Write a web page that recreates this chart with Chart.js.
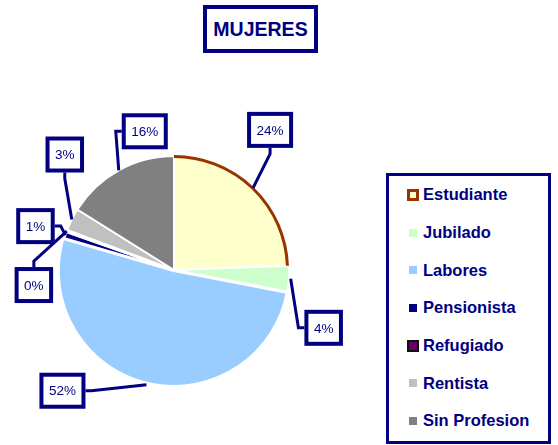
<!DOCTYPE html>
<html>
<head>
<meta charset="utf-8">
<script src="https://cdn.jsdelivr.net/npm/chart.js@4.4.1/dist/chart.umd.min.js"></script>
<style>
  html, body { margin: 0; padding: 0; background: #fff; }
  #wrap { position: relative; width: 558px; height: 445px; overflow: hidden; font-family: "Liberation Sans", Arial, sans-serif; }
  #pie { position: absolute; left: 0; top: 0; }
  #title {
    position: absolute; left: 203px; top: 5px; width: 115px; height: 48px;
    box-sizing: border-box; border: 4px solid #000080; background: #fff;
    color: #000080; font-weight: bold; font-size: 19.5px;
    display: flex; align-items: center; justify-content: center;
  }
  #legend {
    position: absolute; left: 386px; top: 173px; width: 165px; height: 271px;
    box-sizing: border-box; border: 3px solid #000080; background: #fff;
  }
  .row { position: relative; height: 37.7px; display: flex; align-items: center; }
  .mark { position: absolute; box-sizing: border-box; }
  .txt { position: absolute; left: 34px; color: #000080; font-weight: bold; font-size: 16.5px; white-space: nowrap; }
</style>
</head>
<body>
<div id="wrap">
  <canvas id="pie" width="558" height="445"></canvas>
  <div id="title">MUJERES</div>
  <div id="legend"></div>
</div>
<script>
// categorías y porcentajes
var categories = ["Estudiante", "Jubilado", "Labores", "Pensionista", "Refugiado", "Rentista", "Sin Profesion"];
var values = [24.4, 3.6, 51.5, 0.9, 0.3, 3.2, 16.1];
var colors = ["#FFFFCC", "#CCFFCC", "#99CCFF", "#000080", "#660066", "#C0C0C0", "#808080"];
var pctLabels = values.map(function(v) { return Math.round(v) + "%"; });

var NAVY = "#000080";

// donde va cada caja de etiqueta respecto al borde de su porción
var labelLayout = [
  { dx: 17, dy: -58, side: "bottom" },
  { dx: 33, dy: 49, side: "left" },
  { dx: -84, dy: 6, side: "right" },
  { dx: -30, dy: -9, side: "right" },
  { dx: -33, dy: 54, side: "top" },
  { dx: -7, dy: -65, side: "bottom" },
  { dx: 26, dy: -39, side: "left" }
];

// leyenda
var legendEl = document.getElementById("legend");
categories.forEach(function(name, i) {
  var row = document.createElement("div");
  row.className = "row";
  var mk = document.createElement("div");
  mk.className = "mark";
  if (i === 0 || i === 4) {
    mk.style.width = "12px"; mk.style.height = "12px";
    mk.style.left = "18px";
    mk.style.border = (i === 0 ? "3px solid #993300" : "2px solid #111");
  } else {
    mk.style.width = "8px"; mk.style.height = "8px";
    mk.style.left = "20px";
  }
  mk.style.background = colors[i];
  var tx = document.createElement("div");
  tx.className = "txt";
  tx.textContent = name;
  row.appendChild(mk);
  row.appendChild(tx);
  legendEl.appendChild(row);
});

var brownArc = {
  id: "brownArc",
  afterDatasetsDraw: function(chart) {
    var el = chart.getDatasetMeta(0).data[0];
    var p = el.getProps(["x", "y", "startAngle", "endAngle", "outerRadius"], true);
    var ctx = chart.ctx;
    ctx.save();
    ctx.strokeStyle = "#993300";
    ctx.lineWidth = 3;
    ctx.beginPath();
    ctx.arc(p.x, p.y, p.outerRadius - 0.5, p.startAngle, p.endAngle);
    ctx.stroke();
    ctx.restore();
  }
};

var boxLabels = {
  id: "boxLabels",
  afterDraw: function(chart) {
    var ctx = chart.ctx;
    var meta = chart.getDatasetMeta(0);
    var offs = chart.data.datasets[0].offset;
    ctx.save();
    ctx.font = '13.5px "Liberation Sans", Arial, sans-serif';
    ctx.textAlign = "center";
    ctx.textBaseline = "middle";
    meta.data.forEach(function(el, i) {
      var p = el.getProps(["x", "y", "startAngle", "endAngle", "outerRadius"], true);
      var mid = (p.startAngle + p.endAngle) / 2;
      var o = offs[i] || 0;
      var ax = p.x + Math.cos(mid) * (p.outerRadius + o);
      var ay = p.y + Math.sin(mid) * (p.outerRadius + o);
      var lay = labelLayout[i];
      var cx = ax + lay.dx, cy = ay + lay.dy;
      var tw = ctx.measureText(pctLabels[i]).width;
      var w = tw + 15, h = 32;
      var px = cx, py = cy, kx, ky;
      if (lay.side === "bottom") { py = cy + h / 2 + 2; kx = px; ky = py + 6; }
      if (lay.side === "top") { py = cy - h / 2 - 2; kx = px; ky = py - 6; }
      if (lay.side === "left") { px = cx - w / 2 - 2; kx = px - 6; ky = py; }
      if (lay.side === "right") { px = cx + w / 2 + 2; kx = px + 6; ky = py; }
      ctx.strokeStyle = NAVY;
      ctx.lineWidth = 3;
      ctx.beginPath();
      ctx.moveTo(ax, ay);
      ctx.lineTo(kx, ky);
      ctx.lineTo(px, py);
      ctx.stroke();
      ctx.fillStyle = "#fff";
      ctx.fillRect(cx - w / 2, cy - h / 2, w, h);
      ctx.lineWidth = 4;
      ctx.strokeRect(cx - w / 2, cy - h / 2, w, h);
      ctx.fillStyle = NAVY;
      ctx.fillText(pctLabels[i], cx, cy + 1);
    });
    ctx.restore();
  }
};

new Chart(document.getElementById("pie").getContext("2d"), {
  type: "pie",
  data: {
    labels: categories,
    datasets: [{
      data: values,
      backgroundColor: colors,
      borderColor: "#ffffff",
      borderWidth: 2,
      offset: [0, 3, 4, 0, 0, 0, 0]
    }]
  },
  options: {
    responsive: false,
    animation: false,
    layout: { padding: { left: 57, right: 267, top: 153, bottom: 58 } },
    plugins: {
      legend: { display: false },
      tooltip: { enabled: false }
    }
  },
  plugins: [brownArc, boxLabels]
});
</script>
</body>
</html>
